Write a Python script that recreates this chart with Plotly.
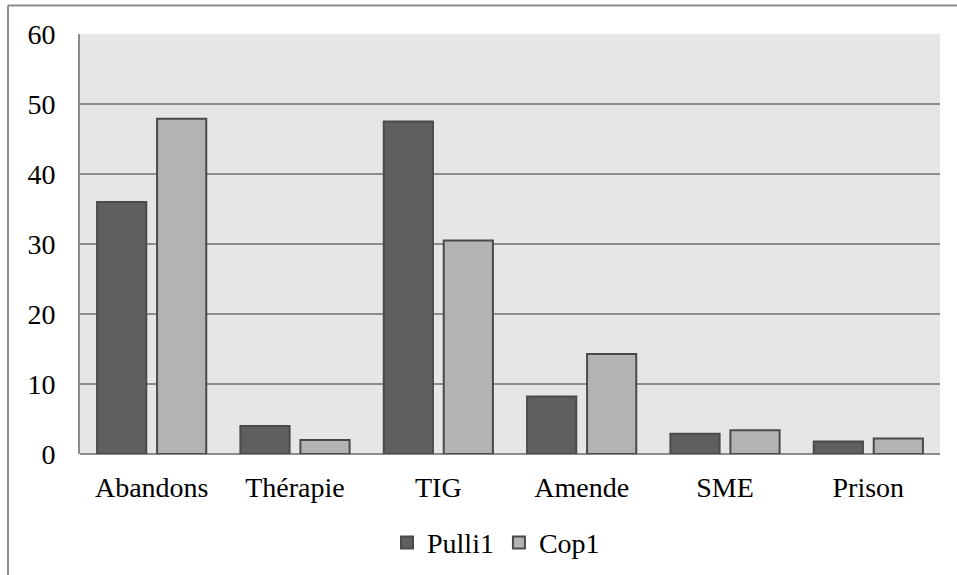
import plotly.graph_objects as go

categories = ["Abandons", "Thérapie", "TIG", "Amende", "SME", "Prison"]
pulli1 = [36, 4, 47.5, 8.2, 2.9, 1.8]
cop1 = [47.9, 2, 30.5, 14.3, 3.4, 2.2]
y_ticks = [0, 10, 20, 30, 40, 50, 60]

FONT = "Liberation Serif"
FSIZE = 28
GRID = "#8c8c8c"

fig = go.Figure()
fig.add_trace(go.Bar(
    name="Pulli1", x=categories, y=pulli1,
    marker=dict(color="#5f5f5f", line=dict(color="#4a4a4a", width=2)),
))
fig.add_trace(go.Bar(
    name="Cop1", x=categories, y=cop1,
    marker=dict(color="#b3b3b3", line=dict(color="#4a4a4a", width=2)),
))

# outer frame of the chart area (top and left edges)
fig.add_shape(type="line", xref="paper", yref="paper",
              x0=-0.0837, x1=1.03, y0=1.0679, y1=1.0679,
              line=dict(color=GRID, width=2))
fig.add_shape(type="line", xref="paper", yref="paper",
              x0=-0.0837, x1=-0.0837, y0=1.0679, y1=-0.30,
              line=dict(color=GRID, width=2))

fig.update_layout(
    template="none",
    width=957, height=575,
    margin=dict(l=80, r=17, t=34, b=121, pad=0),
    paper_bgcolor="white",
    plot_bgcolor="#e6e6e6",
    barmode="group",
    bargap=0.163,
    bargroupgap=0.18,
    font=dict(family=FONT, size=FSIZE, color="black"),
    showlegend=True,
    legend=dict(
        orientation="h", x=0.357, xanchor="left",
        yref="container", y=0.056, yanchor="middle",
        font=dict(family=FONT, size=FSIZE, color="black"),
        itemwidth=30, tracegroupgap=0, bgcolor="rgba(0,0,0,0)",
    ),
    xaxis=dict(
        automargin=False,
        showgrid=False, showline=False, zeroline=False,
        ticks="", ticklabelstandoff=14,
        tickfont=dict(family=FONT, size=FSIZE, color="black"),
    ),
    yaxis=dict(
        automargin=False,
        range=[0, 60], tickvals=y_ticks,
        showgrid=True, gridcolor=GRID, gridwidth=2,
        zeroline=True, zerolinecolor=GRID, zerolinewidth=2,
        showline=True, linecolor=GRID, linewidth=2,
        ticks="", ticklabelstandoff=17,
        tickfont=dict(family=FONT, size=FSIZE, color="black"),
    ),
)

fig.write_html("out.html")
